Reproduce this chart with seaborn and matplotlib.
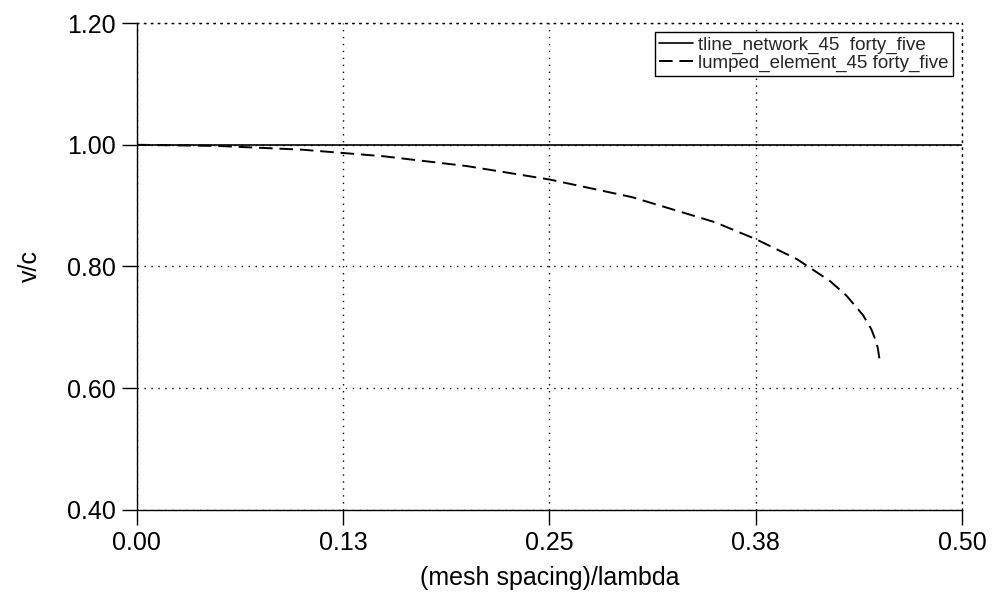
import numpy as np
import pandas as pd
import matplotlib
matplotlib.use("Agg")
import matplotlib.pyplot as plt
import seaborn as sns

# valores
x_tline = [0.0, 0.5]
v_tline = [1.0, 1.0]

x_lumped = [0.0, 0.05, 0.10, 0.15, 0.20, 0.25, 0.30, 0.35, 0.375, 0.40,
            0.42, 0.43, 0.44, 0.445, 0.448, 0.449, 0.45]
v_lumped = [1.0, 0.998, 0.992, 0.981, 0.965, 0.943, 0.914, 0.873, 0.845, 0.812,
            0.776, 0.752, 0.720, 0.697, 0.676, 0.665, 0.647]

x_ticks = [0.0, 0.125, 0.25, 0.375, 0.5]
x_tick_labels = ["0.00", "0.13", "0.25", "0.38", "0.50"]
y_ticks = [0.4, 0.6, 0.8, 1.0, 1.2]
y_tick_labels = ["0.40", "0.60", "0.80", "1.00", "1.20"]

sns.set_theme(style="white")
plt.rcParams['font.family'] = ['Liberation Sans', 'DejaVu Sans']

fig = plt.figure(figsize=(9.97, 6.07), dpi=100)
ax = fig.add_axes([0.137, 0.160, 0.828, 0.802])

sns.lineplot(x=x_tline, y=v_tline, color="black", lw=1.2, ax=ax,
             label="tline_network_45  forty_five")
sns.lineplot(x=x_lumped, y=v_lumped, color="black", lw=1.4, ax=ax,
             label="lumped_element_45 forty_five")
ax.lines[1].set_dashes((7, 3.5))

ax.set_xlim(0, 0.5)
ax.set_ylim(0.4, 1.2)
ax.set_xticks(x_ticks)
ax.set_xticklabels(x_tick_labels)
ax.set_yticks(y_ticks)
ax.set_yticklabels(y_tick_labels)

# grade pontilhada
ax.grid(True, color="black", linestyle=(0, (1, 4)), linewidth=1.0)
for s in ["top", "right"]:
    ax.spines[s].set_linestyle((0, (1, 4)))
    ax.spines[s].set_linewidth(1.0)
    ax.spines[s].set_color("black")
for s in ["left", "bottom"]:
    ax.spines[s].set_color("black")
    ax.spines[s].set_linewidth(1.0)

ax.tick_params(axis="both", direction="out", length=11, width=1, color="black",
               labelsize=18, labelcolor="black", pad=4,
               bottom=True, left=True, top=False, right=False)

ax.set_xlabel("(mesh spacing)/lambda", fontsize=18, color="black", labelpad=8)
ax.set_ylabel("v/c", fontsize=18, color="black", labelpad=18)

leg = ax.legend(loc="upper right", fontsize=13.5, frameon=True, fancybox=False,
                handlelength=1.8, handletextpad=0.3, borderpad=0.2,
                labelspacing=0.05, borderaxespad=0.5)
leg.get_frame().set_edgecolor("black")
leg.get_frame().set_linewidth(1.0)
leg.get_frame().set_alpha(1)

fig.savefig("out.png", dpi=100)
